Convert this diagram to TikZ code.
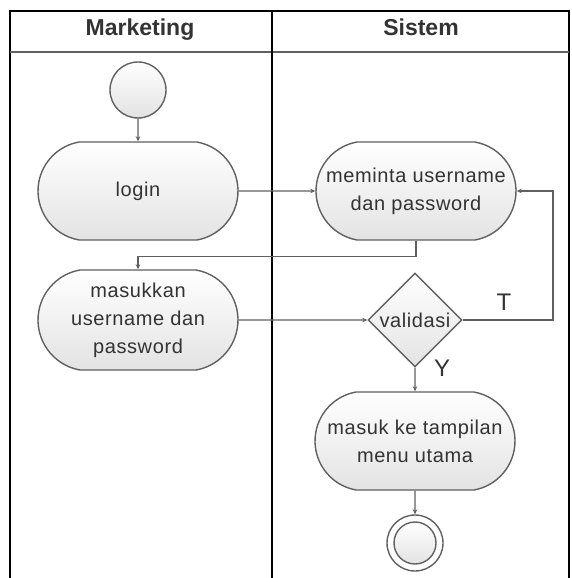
\documentclass[tikz,border=0pt]{standalone}
\usepackage{fontspec}
\setmainfont{Liberation Sans}
\newfontfamily\actfont{Liberation Sans}[LetterSpace=3]
\usetikzlibrary{shapes}
\usetikzlibrary{arrows.meta}
\definecolor{linec}{RGB}{96,96,96}
\definecolor{textc}{RGB}{51,51,51}
\tikzset{
    actnode/.style = {rounded rectangle, rounded rectangle arc length=160, draw=linec, line width=1.4pt, top color=white, bottom color=black!11, align=center, inner sep=0pt, minimum width=200pt, minimum height=98pt, text=textc, font=\actfont\fontsize{20}{28}\selectfont},
    decnode/.style = {diamond, draw=linec, line width=1.4pt, top color=white, bottom color=black!11, inner sep=0pt, minimum width=94pt, minimum height=94pt, text=textc, font=\actfont\fontsize{20}{28}\selectfont},
    startnode/.style = {circle, draw=linec, line width=1.4pt, top color=white, bottom color=black!11, minimum size=56pt, inner sep=0pt},
    endnode/.style = {circle, draw=linec, line width=1.4pt, fill=white, minimum size=56pt, inner sep=0pt},
    endin/.style = {draw=linec, line width=1.4pt, top color=white, bottom color=black!11},
    lanehead/.style = {anchor=base, text=textc, font=\bfseries\fontsize{23}{28}\selectfont},
    guard/.style = {text=textc, font=\fontsize{24}{28}\selectfont},
    edgen/.style = {-{Stealth[length=5pt,width=4.5pt]}, draw=linec, line width=1.3pt},
    lanel/.style = {draw=black, line width=1.5pt},
    laned/.style = {draw=black, line width=2.4pt},
    laneh/.style = {draw=linec, line width=1.4pt}
}
\begin{document}
\begin{tikzpicture}[x=1pt,y=-1pt]
\useasboundingbox (0,0) rectangle (571,578);
%
\draw[lanel] (10,578) -- (10,11) -- (569,11) -- (569,578);
\draw[laneh] (10,52) -- (569,52);
\draw[laned] (272,11) -- (272,578);
\node[lanehead] at (140,36) (marketing) {Marketing};
\node[lanehead] at (421,36) (sistem) {Sistem};
%
\node[startnode] at (138,90) (start) {};
\node[actnode] at (138,191) (login) {login};
\node[actnode] at (416,191) (meminta) {meminta username\\dan password};
\node[actnode, minimum height=100pt] at (138,320) (masukkan) {masukkan\\username dan\\password};
\node[decnode] at (415,320) (validasi) {validasi};
\node[actnode] at (415,441) (masuk) {masuk ke tampilan\\menu utama};
\node[endnode] at (415,543) (final) {};
\draw[endin] (final.center) circle (21pt);
\coordinate (loop) at (553,191);
%
\draw[edgen] (start) edge node {} (login);
\draw[edgen] (login) edge node {} (meminta);
\draw[edgen] (masukkan) edge node {} (validasi);
\draw[edgen] (validasi) edge node {} (masuk);
\draw[edgen] (masuk) edge node {} (final);
\draw[edgen] (meminta.south) -- ++(0,16) -| (masukkan.north);
\draw[edgen] (validasi.east) -| (loop) -- (meminta.east);
%
\node[guard] at (504,302) (t) {T};
\node[guard] at (442,368) (y) {Y};

\end{tikzpicture}
\end{document}
